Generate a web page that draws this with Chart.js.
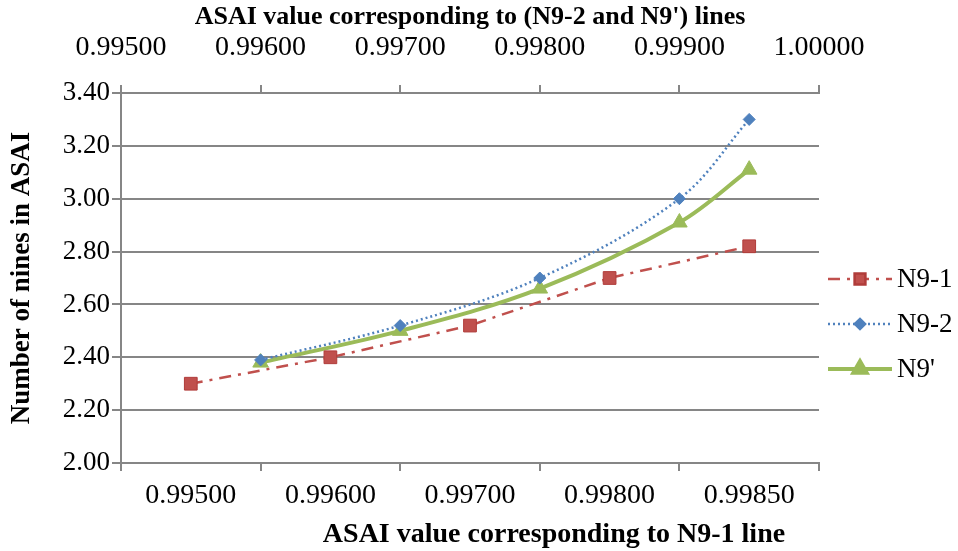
<!DOCTYPE html>
<html>
<head>
<meta charset="utf-8">
<script src="https://cdn.jsdelivr.net/npm/chart.js@4.4.1/dist/chart.umd.min.js"></script>
<style>
  html, body { margin: 0; padding: 0; background: #fff; }
  canvas { display: block; }
</style>
</head>
<body>
<canvas id="asaiChart" width="958" height="551"></canvas>
<script>
// bottom axis (categories) -> N9-1 line
const n91Labels = ["0.99500", "0.99600", "0.99700", "0.99800", "0.99850"];
const n91Values = [2.30, 2.40, 2.52, 2.70, 2.82];

// top axis (ASAI value) -> N9-2 and N9' lines
const topAsai = [0.9960, 0.9970, 0.9980, 0.9990, 0.9995];
const n92Values = [2.39, 2.52, 2.70, 3.00, 3.30];
const n9pValues = [2.38, 2.50, 2.66, 2.91, 3.11];

const yTicks = [2.0, 3.4, 0.2]; // min, max, step
const topTicks = [0.995, 1.0, 0.001];

const serif = "'Liberation Serif', 'Times New Roman', serif";
const gridColor = "#868686";

function pairs(xs, ys) {
  return xs.map((x, i) => ({ x: x, y: ys[i] }));
}

// legend drawn on the right: line sample + marker + name
const sideLegend = {
  id: "sideLegend",
  afterDraw(chart) {
    const ctx = chart.ctx;
    const x0 = chart.chartArea.right + 9;
    chart.data.datasets.forEach((ds, i) => {
      const y = 279 + i * 45;
      ctx.save();
      ctx.strokeStyle = ds.borderColor;
      ctx.lineWidth = ds.borderWidth;
      ctx.setLineDash(ds.borderDash || []);
      ctx.beginPath();
      ctx.moveTo(x0, y);
      ctx.lineTo(x0 + 64, y);
      ctx.stroke();
      ctx.setLineDash([]);
      ctx.fillStyle = ds.pointBackgroundColor;
      ctx.strokeStyle = ds.pointBorderColor;
      Chart.helpers.drawPoint(ctx, {
        pointStyle: ds.pointStyle,
        radius: ds.pointRadius * 0.85,
        borderWidth: 1,
        rotation: 0
      }, x0 + 32, y);
      ctx.fillStyle = "#000";
      ctx.font = "27px " + serif;
      ctx.textAlign = "left";
      ctx.textBaseline = "middle";
      ctx.fillText(ds.label, x0 + 69, y + 1);
      ctx.restore();
    });
  }
};

// bottom axis title sits right of centre in the original
const bottomTitle = {
  id: "bottomTitle",
  afterDraw(chart) {
    const ctx = chart.ctx;
    ctx.save();
    ctx.fillStyle = "#000";
    ctx.font = "bold 28px " + serif;
    ctx.textAlign = "center";
    ctx.textBaseline = "middle";
    ctx.fillText("ASAI value corresponding to N9-1 line", chart.chartArea.left + 433, 535);
    ctx.restore();
  }
};

const configAsai = {
  type: "line",
  data: {
    labels: n91Labels,
    datasets: [
      {
        label: "N9-1",
        xAxisID: "x",
        data: n91Values,
        borderColor: "#C0504D",
        borderWidth: 2.5,
        borderDash: [12, 7, 3, 7],
        pointStyle: "rect",
        pointRadius: 9,
        pointBackgroundColor: "#C0504D",
        pointBorderColor: "#B03C3A",
        pointBorderWidth: 1,
        tension: 0,
      },
      {
        label: "N9-2",
        xAxisID: "x2",
        data: pairs(topAsai, n92Values),
        borderColor: "#4F81BD",
        borderWidth: 2.5,
        borderDash: [2, 3],
        pointStyle: "rectRot",
        pointRadius: 6,
        pointBackgroundColor: "#4F81BD",
        pointBorderColor: "#4F81BD",
        pointBorderWidth: 1,
        tension: 0.35,
      },
      {
        label: "N9'",
        xAxisID: "x2",
        data: pairs(topAsai, n9pValues),
        borderColor: "#9BBB59",
        borderWidth: 4,
        pointStyle: "triangle",
        pointRadius: 9,
        pointBackgroundColor: "#9BBB59",
        pointBorderColor: "#9BBB59",
        pointBorderWidth: 1,
        tension: 0.35,
      },
    ],
  },
  options: {
    responsive: false,
    animation: false,
    layout: {
      padding: { left: 0, top: 0, right: 139, bottom: 0 },
    },
    scales: {
      x: {
        type: "category",
        position: "bottom",
        offset: true,
        grid: {
          offset: true,
          drawOnChartArea: false,
          drawTicks: true,
          tickLength: 8,
          color: gridColor,
          lineWidth: 2,
        },
        border: { display: true, color: gridColor, width: 2 },
        ticks: {
          color: "#000",
          font: { family: serif, size: 28, lineHeight: 1 },
          padding: 11,
          maxRotation: 0,
          autoSkip: false,
        },
        afterFit(scale) {
          scale.height = 88;
        },
      },
      x2: {
        type: "linear",
        position: "top",
        min: topTicks[0],
        max: topTicks[1],
        grid: {
          drawOnChartArea: false,
          tickLength: 8,
          color: gridColor,
          lineWidth: 2,
        },
        border: { display: true, color: gridColor, width: 2 },
        ticks: {
          stepSize: topTicks[2],
          color: "#000",
          font: { family: serif, size: 28, lineHeight: 1 },
          padding: 23,
          maxRotation: 0,
          autoSkip: false,
          callback: (v) => Number(v).toFixed(5),
        },
        title: {
          display: true,
          text: "ASAI value corresponding to (N9-2 and N9') lines",
          color: "#000",
          font: { family: serif, size: 26, weight: "bold", lineHeight: 1 },
          padding: { top: 4 },
        },
        afterFit(scale) {
          scale.height = 93;
        },
      },
      y: {
        min: yTicks[0],
        max: yTicks[1],
        grid: {
          color: gridColor,
          lineWidth: 2,
          tickLength: 9,
        },
        border: { display: true, color: gridColor, width: 2 },
        ticks: {
          stepSize: yTicks[2],
          color: "#000",
          font: { family: serif, size: 27, lineHeight: 1 },
          padding: 2,
          callback: (v) => Number(v).toFixed(2),
        },
        title: {
          display: true,
          text: "Number of nines in ASAI",
          color: "#000",
          font: { family: serif, size: 27, weight: "bold", lineHeight: 1 },
          padding: { top: 9 },
        },
        afterFit(scale) {
          scale.width = 121;
        },
      },
    },
    plugins: {
      legend: { display: false },
      tooltip: { enabled: false },
    },
  },
  plugins: [sideLegend, bottomTitle],
};

const asaiChart = new Chart(document.getElementById("asaiChart"), configAsai);
</script>
</body>
</html>
